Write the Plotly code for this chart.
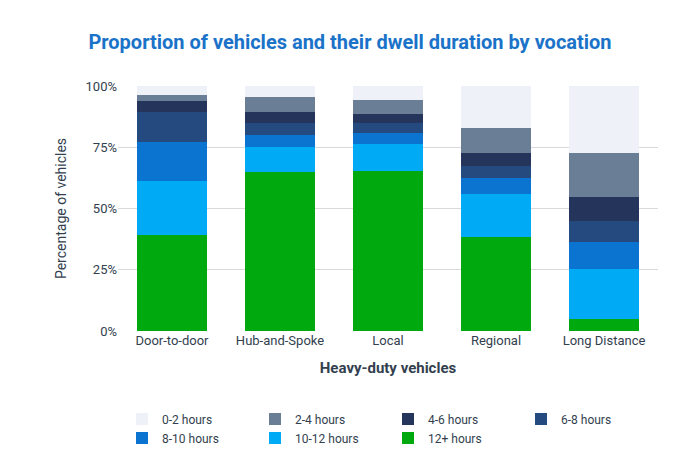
import plotly.graph_objects as go

categories = ['Door-to-door', 'Hub-and-Spoke', 'Local', 'Regional', 'Long Distance']

# shares in percent, bottom to top
h12_plus = [39.3, 65.0, 65.4, 38.5, 4.7]
h10_12 = [21.8, 10.1, 10.9, 17.5, 20.6]
h8_10 = [15.9, 5.1, 4.6, 6.3, 10.9]
h6_8 = [12.5, 4.6, 3.9, 5.0, 8.5]
h4_6 = [4.3, 4.7, 3.9, 5.5, 10.2]
h2_4 = [2.7, 6.2, 5.5, 10.1, 17.9]
h0_2 = [3.5, 4.3, 5.8, 17.1, 27.2]

series = [
    ('0-2 hours', h0_2, '#eef1f7'),
    ('2-4 hours', h2_4, '#6a7f95'),
    ('4-6 hours', h4_6, '#24345a'),
    ('6-8 hours', h6_8, '#244a80'),
    ('8-10 hours', h8_10, '#0b74d1'),
    ('10-12 hours', h10_12, '#00aaf5'),
    ('12+ hours', h12_plus, '#00a90d'),
]

fig = go.Figure()
# add bottom segment first so stacking matches
for name, vals, col in reversed(series):
    fig.add_trace(go.Bar(x=categories, y=vals, name=name, marker_color=col,
                         marker_line_width=0))

fig.update_layout(
    barmode='stack',
    bargap=0.36,
    width=684, height=456,
    paper_bgcolor='white', plot_bgcolor='white',
    font=dict(family='Roboto', color='#333f4f', size=13),
    title=dict(text='<b>Proportion of vehicles and their dwell duration by vocation</b>',
               x=0.5, xanchor='center', y=0.94, font=dict(size=20, color='#1a73c8')),
    margin=dict(l=110, r=34, t=78, b=121),
    xaxis=dict(title=dict(text='<b>Heavy-duty vehicles</b>', font=dict(size=15)),
               showline=False, ticks=''),
    yaxis=dict(title=dict(text='Percentage of vehicles', font=dict(size=14)),
               range=[0, 100], tickvals=[0, 25, 50, 75, 100],
               ticktext=['0%', '25%', '50%', '75%', '100%'],
               gridcolor='#d9d9d9', zeroline=False),
    legend=dict(orientation='h', x=0.5, xanchor='center', y=-0.3, yanchor='top',
                traceorder='reversed', font=dict(size=12), itemwidth=30,
                entrywidth=88, entrywidthmode='pixels'),
)

fig.write_html('out.html')
